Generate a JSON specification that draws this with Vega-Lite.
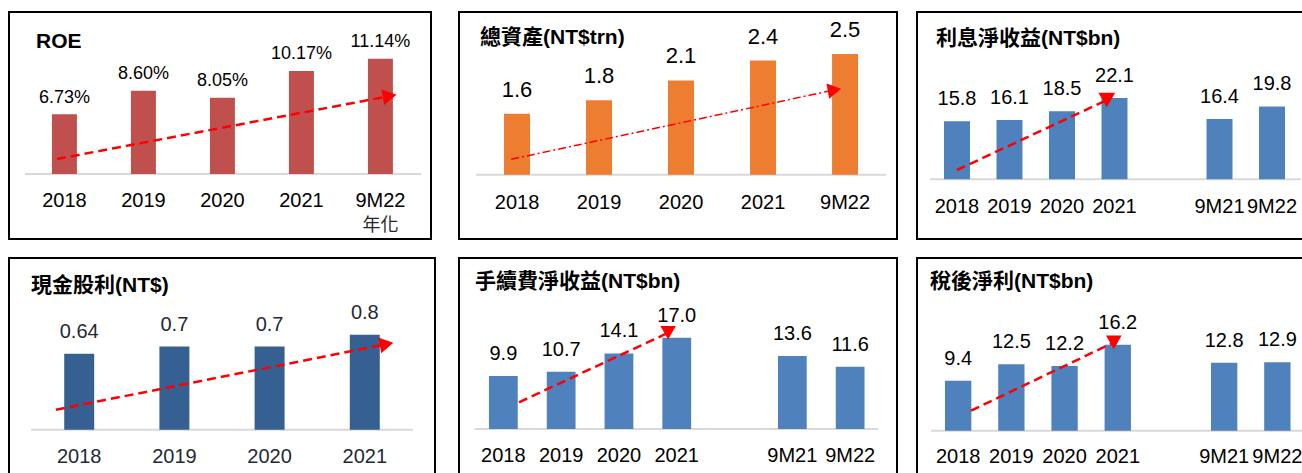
{
  "$schema": "https://vega.github.io/schema/vega-lite/v6.json",
  "padding": {"left": 8, "top": 11, "right": 0, "bottom": 0},
  "background": "#ffffff",
  "config": {
    "view": {"stroke": "#000000", "strokeWidth": 2},
    "axisX": {"domain": false, "ticks": false, "tickSize": 0, "labelAngle": 0, "labelFontSize": 20, "labelColor": "#000000", "labelFont": "Liberation Sans", "grid": false, "labelOverlap": false},
    "text": {"font": "Liberation Sans", "color": "#000000"},
    "rule": {"color": "#D9D9D9", "strokeWidth": 2},
    "title": {"anchor": "start", "frame": "group", "baseline": "alphabetic", "fontSize": 21, "fontWeight": "bold", "font": "Liberation Sans, 'Noto Sans CJK TC'", "color": "#000000"}
  },
  "vconcat": [
    {
      "spacing": 26,
      "hconcat": [
        {
          "width": 422, "height": 227,
          "title": {"text": "ROE", "dx": 27, "offset": -40},
          "layer": [
            {
              "data": {"values": [{"from": -0.5, "to": 4.513, "base": 0.02}]},
              "mark": "rule",
              "encoding": {
                "x": {"field": "from", "type": "quantitative", "scale": {"domain": [-0.7025, 4.639], "nice": false, "zero": false}, "axis": null},
                "x2": {"field": "to"},
                "y": {"field": "base", "type": "quantitative", "scale": {"domain": [-0.0315, 0.1484], "nice": false, "zero": false}, "axis": null}
              }
            },
            {
              "data": {"values": [
                {"period": "2018", "roe": 0.0673},
                {"period": "2019", "roe": 0.0860},
                {"period": "2020", "roe": 0.0805},
                {"period": "2021", "roe": 0.1017},
                {"period": "9M22", "roe": 0.1114}
              ]},
              "layer": [
                {
                  "mark": {"type": "bar", "color": "#C0504D"},
                  "encoding": {
                    "x": {"field": "period", "type": "nominal", "scale": {"domain": ["2018", "2019", "2020", "2021", "9M22"], "paddingInner": 0.684, "paddingOuter": 0.513, "align": 0.53}, "axis": {"title": null, "offset": -65, "labelPadding": 16}},
                    "y": {"field": "roe", "type": "quantitative", "scale": {"domain": [-0.0315, 0.1484], "nice": false, "zero": false}, "axis": null},
                    "y2": {"datum": 0.02}
                  }
                },
                {
                  "mark": {"type": "text", "baseline": "alphabetic", "dy": -11.5, "fontSize": 18},
                  "encoding": {
                    "x": {"field": "period", "type": "nominal"},
                    "y": {"field": "roe", "type": "quantitative"},
                    "text": {"field": "roe", "format": ".2%"}
                  }
                },
                {
                  "data": {"values": [{"period": "9M22", "note": "年化"}]},
                  "mark": {"type": "text", "baseline": "middle", "fontSize": 18, "font": "Noto Sans CJK TC", "color": "#262626"},
                  "encoding": {
                    "x": {"field": "period", "type": "nominal"},
                    "y": {"datum": -0.0212},
                    "text": {"field": "note"}
                  }
                }
              ]
            },
            {
              "data": {"values": [{"u": -0.095, "v": 0.0319, "part": "start"}, {"u": 4.116, "v": 0.0818, "part": "end"}]},
              "layer": [
                {
                  "mark": {"type": "line", "color": "#FF0000", "strokeWidth": 2.5, "strokeDash": [9, 5]},
                  "encoding": {
                    "x": {"field": "u", "type": "quantitative", "scale": {"domain": [-0.7025, 4.639], "nice": false, "zero": false}, "axis": null},
                    "y": {"field": "v", "type": "quantitative"}
                  }
                },
                {
                  "transform": [{"filter": "datum.part == 'end'"}],
                  "mark": {"type": "point", "shape": "triangle-right", "filled": true, "color": "#FF0000", "opacity": 1, "size": 256, "angle": -10, "strokeWidth": 0},
                  "encoding": {
                    "x": {"field": "u", "type": "quantitative"},
                    "y": {"field": "v", "type": "quantitative"}
                  }
                }
              ]
            }
          ],
          "resolve": {"scale": {"x": "independent"}}
        },
        {
          "spacing": 18,
          "hconcat": [
            {
              "width": 438, "height": 227,
              "title": {"text": "總資產(NT$trn)", "dx": 21, "offset": -36},
              "layer": [
                {
                  "data": {"values": [{"from": -0.5, "to": 4.5, "base": 0.68}]},
                  "mark": "rule",
                  "encoding": {
                    "x": {"field": "from", "type": "quantitative", "scale": {"domain": [-0.707, 4.634], "nice": false, "zero": false}, "axis": null},
                    "x2": {"field": "to"},
                    "y": {"field": "base", "type": "quantitative", "scale": {"domain": [-0.288, 3.131], "nice": false, "zero": false}, "axis": null}
                  }
                },
                {
                  "data": {"values": [
                    {"period": "2018", "assets": 1.6},
                    {"period": "2019", "assets": 1.8},
                    {"period": "2020", "assets": 2.1},
                    {"period": "2021", "assets": 2.4},
                    {"period": "9M22", "assets": 2.5}
                  ]},
                  "layer": [
                    {
                      "mark": {"type": "bar", "color": "#ED7D31"},
                      "encoding": {
                        "x": {"field": "period", "type": "nominal", "scale": {"domain": ["2018", "2019", "2020", "2021", "9M22"], "paddingInner": 0.683, "paddingOuter": 0.512, "align": 0.536}, "axis": {"title": null, "offset": -64, "labelPadding": 17.5}},
                        "y": {"field": "assets", "type": "quantitative", "scale": {"domain": [-0.288, 3.131], "nice": false, "zero": false}, "axis": null},
                        "y2": {"datum": 0.68}
                      }
                    },
                    {
                      "mark": {"type": "text", "baseline": "alphabetic", "dy": -17, "fontSize": 22},
                      "encoding": {
                        "x": {"field": "period", "type": "nominal"},
                        "y": {"field": "assets", "type": "quantitative"},
                        "text": {"field": "assets", "format": ".1f"}
                      }
                    }
                  ]
                },
                {
                  "data": {"values": [{"u": -0.07, "v": 0.913, "part": "start"}, {"u": 3.871, "v": 1.958, "part": "end"}]},
                  "layer": [
                    {
                      "mark": {"type": "line", "color": "#FF0000", "strokeWidth": 1.5, "strokeDash": [8, 3, 2, 3]},
                      "encoding": {
                        "x": {"field": "u", "type": "quantitative", "scale": {"domain": [-0.707, 4.634], "nice": false, "zero": false}, "axis": null},
                        "y": {"field": "v", "type": "quantitative"}
                      }
                    },
                    {
                      "transform": [{"filter": "datum.part == 'end'"}],
                      "mark": {"type": "point", "shape": "triangle-right", "filled": true, "color": "#FF0000", "opacity": 1, "size": 240, "angle": -10, "strokeWidth": 0},
                      "encoding": {
                        "x": {"field": "u", "type": "quantitative"},
                        "y": {"field": "v", "type": "quantitative"}
                      }
                    }
                  ]
                }
              ],
              "resolve": {"scale": {"x": "independent"}}
            },
            {
              "width": 395, "height": 227,
              "title": {"text": "利息淨收益(NT$bn)", "dx": 19, "offset": -37},
              "layer": [
                {
                  "data": {"values": [{"from": -0.514, "to": 6.55, "base": 0}]},
                  "mark": "rule",
                  "encoding": {
                    "x": {"field": "from", "type": "quantitative", "scale": {"domain": [-0.762, 6.762], "nice": false, "zero": false}, "axis": null},
                    "x2": {"field": "to"},
                    "y": {"field": "base", "type": "quantitative", "scale": {"domain": [-16.22, 45.46], "nice": false, "zero": false}, "axis": null}
                  }
                },
                {
                  "data": {"values": [
                    {"period": "2018", "nii": 15.8},
                    {"period": "2019", "nii": 16.1},
                    {"period": "2020", "nii": 18.5},
                    {"period": "2021", "nii": 22.1},
                    {"period": "9M21", "nii": 16.4},
                    {"period": "9M22", "nii": 19.8}
                  ]},
                  "layer": [
                    {
                      "mark": {"type": "bar", "color": "#4F81BD"},
                      "encoding": {
                        "x": {"field": "period", "type": "nominal", "scale": {"domain": ["2018", "2019", "2020", "2021", " ", "9M21", "9M22"], "paddingInner": 0.505, "paddingOuter": 0.514, "align": 0.5}, "axis": {"title": null, "offset": -59.7, "labelPadding": 17}},
                        "y": {"field": "nii", "type": "quantitative", "scale": {"domain": [-16.22, 45.46], "nice": false, "zero": false}, "axis": null},
                        "y2": {"datum": 0}
                      }
                    },
                    {
                      "mark": {"type": "text", "baseline": "alphabetic", "dy": -16, "fontSize": 20},
                      "encoding": {
                        "x": {"field": "period", "type": "nominal"},
                        "y": {"field": "nii", "type": "quantitative"},
                        "text": {"field": "nii", "format": ".1f"}
                      }
                    }
                  ]
                },
                {
                  "data": {"values": [{"u": 0, "v": 2.53, "part": "start"}, {"u": 2.853, "v": 21.52, "part": "end"}]},
                  "layer": [
                    {
                      "mark": {"type": "line", "color": "#FF0000", "strokeWidth": 2.5, "strokeDash": [9, 5]},
                      "encoding": {
                        "x": {"field": "u", "type": "quantitative", "scale": {"domain": [-0.762, 6.762], "nice": false, "zero": false}, "axis": null},
                        "y": {"field": "v", "type": "quantitative"}
                      }
                    },
                    {
                      "transform": [{"filter": "datum.part == 'end'"}],
                      "mark": {"type": "point", "shape": "triangle-down", "filled": true, "color": "#FF0000", "opacity": 1, "size": 280, "strokeWidth": 0},
                      "encoding": {
                        "x": {"field": "u", "type": "quantitative"},
                        "y": {"field": "v", "type": "quantitative"}
                      }
                    }
                  ]
                }
              ],
              "resolve": {"scale": {"x": "independent"}}
            }
          ]
        }
      ]
    },
    {
      "spacing": 22,
      "hconcat": [
        {
          "width": 426, "height": 224,
          "title": {"text": "現金股利(NT$)", "dx": 22, "offset": -38},
          "layer": [
            {
              "data": {"values": [{"from": -0.507, "to": 3.505, "base": 0}]},
              "mark": "rule",
              "encoding": {
                "x": {"field": "from", "type": "quantitative", "scale": {"domain": [-0.738, 3.736], "nice": false, "zero": false}, "axis": null},
                "x2": {"field": "to"},
                "y": {"field": "base", "type": "quantitative", "scale": {"domain": [-0.44, 1.445], "nice": false, "zero": false}, "axis": null}
              }
            },
            {
              "data": {"values": [
                {"period": "2018", "dps": 0.64},
                {"period": "2019", "dps": 0.7},
                {"period": "2020", "dps": 0.7},
                {"period": "2021", "dps": 0.8}
              ]},
              "layer": [
                {
                  "mark": {"type": "bar", "color": "#376092"},
                  "encoding": {
                    "x": {"field": "period", "type": "nominal", "scale": {"domain": ["2018", "2019", "2020", "2021"], "paddingInner": 0.685, "paddingOuter": 0.58, "align": 0.5}, "axis": {"title": null, "offset": -52.3, "labelPadding": 17, "labelColor": "#1F2A36"}},
                    "y": {"field": "dps", "type": "quantitative", "scale": {"domain": [-0.44, 1.445], "nice": false, "zero": false}, "axis": null},
                    "y2": {"datum": 0}
                  }
                },
                {
                  "mark": {"type": "text", "baseline": "alphabetic", "dy": -16, "fontSize": 20, "color": "#1F2A36"},
                  "encoding": {
                    "x": {"field": "period", "type": "nominal"},
                    "y": {"field": "dps", "type": "quantitative"},
                    "text": {"field": "dps", "format": "~g"}
                  }
                }
              ]
            },
            {
              "data": {"values": [{"u": -0.245, "v": 0.168, "part": "start"}, {"u": 3.227, "v": 0.72, "part": "end"}]},
              "layer": [
                {
                  "mark": {"type": "line", "color": "#FF0000", "strokeWidth": 2.5, "strokeDash": [9, 5]},
                  "encoding": {
                    "x": {"field": "u", "type": "quantitative", "scale": {"domain": [-0.738, 3.736], "nice": false, "zero": false}, "axis": null},
                    "y": {"field": "v", "type": "quantitative"}
                  }
                },
                {
                  "transform": [{"filter": "datum.part == 'end'"}],
                  "mark": {"type": "point", "shape": "triangle-right", "filled": true, "color": "#FF0000", "opacity": 1, "size": 256, "angle": -11, "strokeWidth": 0},
                  "encoding": {
                    "x": {"field": "u", "type": "quantitative"},
                    "y": {"field": "v", "type": "quantitative"}
                  }
                }
              ]
            }
          ],
          "resolve": {"scale": {"x": "independent"}}
        },
        {
          "spacing": 18,
          "hconcat": [
            {
              "width": 438, "height": 224,
              "title": {"text": "手續費淨收益(NT$bn)", "dx": 16, "offset": -34},
              "layer": [
                {
                  "data": {"values": [{"from": -0.497, "to": 6.48, "base": 0}]},
                  "mark": "rule",
                  "encoding": {
                    "x": {"field": "from", "type": "quantitative", "scale": {"domain": [-0.768, 6.81], "nice": false, "zero": false}, "axis": null},
                    "x2": {"field": "to"},
                    "y": {"field": "base", "type": "quantitative", "scale": {"domain": [-9.89, 31.9], "nice": false, "zero": false}, "axis": null}
                  }
                },
                {
                  "data": {"values": [
                    {"period": "2018", "fee": 9.9},
                    {"period": "2019", "fee": 10.7},
                    {"period": "2020", "fee": 14.1},
                    {"period": "2021", "fee": 17.0},
                    {"period": "9M21", "fee": 13.6},
                    {"period": "9M22", "fee": 11.6}
                  ]},
                  "layer": [
                    {
                      "mark": {"type": "bar", "color": "#4F81BD"},
                      "encoding": {
                        "x": {"field": "period", "type": "nominal", "scale": {"domain": ["2018", "2019", "2020", "2021", " ", "9M21", "9M22"], "paddingInner": 0.502, "paddingOuter": 0.54, "align": 0.48}, "axis": {"title": null, "offset": -53, "labelPadding": 16}},
                        "y": {"field": "fee", "type": "quantitative", "scale": {"domain": [-9.89, 31.9], "nice": false, "zero": false}, "axis": null},
                        "y2": {"datum": 0}
                      }
                    },
                    {
                      "mark": {"type": "text", "baseline": "alphabetic", "dy": -16, "fontSize": 20},
                      "encoding": {
                        "x": {"field": "period", "type": "nominal"},
                        "y": {"field": "fee", "type": "quantitative"},
                        "text": {"field": "fee", "format": ".1f"}
                      }
                    }
                  ]
                },
                {
                  "data": {"values": [{"u": 0.27, "v": 4.98, "part": "start"}, {"u": 2.85, "v": 17.94, "part": "end"}]},
                  "layer": [
                    {
                      "mark": {"type": "line", "color": "#FF0000", "strokeWidth": 2.5, "strokeDash": [9, 5]},
                      "encoding": {
                        "x": {"field": "u", "type": "quantitative", "scale": {"domain": [-0.768, 6.81], "nice": false, "zero": false}, "axis": null},
                        "y": {"field": "v", "type": "quantitative"}
                      }
                    },
                    {
                      "transform": [{"filter": "datum.part == 'end'"}],
                      "mark": {"type": "point", "shape": "triangle-down", "filled": true, "color": "#FF0000", "opacity": 1, "size": 240, "strokeWidth": 0},
                      "encoding": {
                        "x": {"field": "u", "type": "quantitative"},
                        "y": {"field": "v", "type": "quantitative"}
                      }
                    }
                  ]
                }
              ],
              "resolve": {"scale": {"x": "independent"}}
            },
            {
              "width": 400, "height": 224,
              "title": {"text": "稅後淨利(NT$bn)", "dx": 13, "offset": -34},
              "layer": [
                {
                  "data": {"values": [{"from": -0.511, "to": 6.48, "base": 0}]},
                  "mark": "rule",
                  "encoding": {
                    "x": {"field": "from", "type": "quantitative", "scale": {"domain": [-0.774, 6.744], "nice": false, "zero": false}, "axis": null},
                    "x2": {"field": "to"},
                    "y": {"field": "base", "type": "quantitative", "scale": {"domain": [-9.66, 32.52], "nice": false, "zero": false}, "axis": null}
                  }
                },
                {
                  "data": {"values": [
                    {"period": "2018", "np": 9.4},
                    {"period": "2019", "np": 12.5},
                    {"period": "2020", "np": 12.2},
                    {"period": "2021", "np": 16.2},
                    {"period": "9M21", "np": 12.8},
                    {"period": "9M22", "np": 12.9}
                  ]},
                  "layer": [
                    {
                      "mark": {"type": "bar", "color": "#4F81BD"},
                      "encoding": {
                        "x": {"field": "period", "type": "nominal", "scale": {"domain": ["2018", "2019", "2020", "2021", " ", "9M21", "9M22"], "paddingInner": 0.505, "paddingOuter": 0.512, "align": 0.514}, "axis": {"title": null, "offset": -51.3, "labelPadding": 16}},
                        "y": {"field": "np", "type": "quantitative", "scale": {"domain": [-9.66, 32.52], "nice": false, "zero": false}, "axis": null},
                        "y2": {"datum": 0}
                      }
                    },
                    {
                      "mark": {"type": "text", "baseline": "alphabetic", "dy": -16, "fontSize": 20},
                      "encoding": {
                        "x": {"field": "period", "type": "nominal"},
                        "y": {"field": "np", "type": "quantitative"},
                        "text": {"field": "np", "format": ".1f"}
                      }
                    }
                  ]
                },
                {
                  "data": {"values": [{"u": 0.24, "v": 3.76, "part": "start"}, {"u": 2.925, "v": 16.63, "part": "end"}]},
                  "layer": [
                    {
                      "mark": {"type": "line", "color": "#FF0000", "strokeWidth": 2.5, "strokeDash": [9, 5]},
                      "encoding": {
                        "x": {"field": "u", "type": "quantitative", "scale": {"domain": [-0.774, 6.744], "nice": false, "zero": false}, "axis": null},
                        "y": {"field": "v", "type": "quantitative"}
                      }
                    },
                    {
                      "transform": [{"filter": "datum.part == 'end'"}],
                      "mark": {"type": "point", "shape": "triangle-down", "filled": true, "color": "#FF0000", "opacity": 1, "size": 245, "strokeWidth": 0},
                      "encoding": {
                        "x": {"field": "u", "type": "quantitative"},
                        "y": {"field": "v", "type": "quantitative"}
                      }
                    }
                  ]
                }
              ],
              "resolve": {"scale": {"x": "independent"}}
            }
          ]
        }
      ]
    }
  ],
  "spacing": 17
}
